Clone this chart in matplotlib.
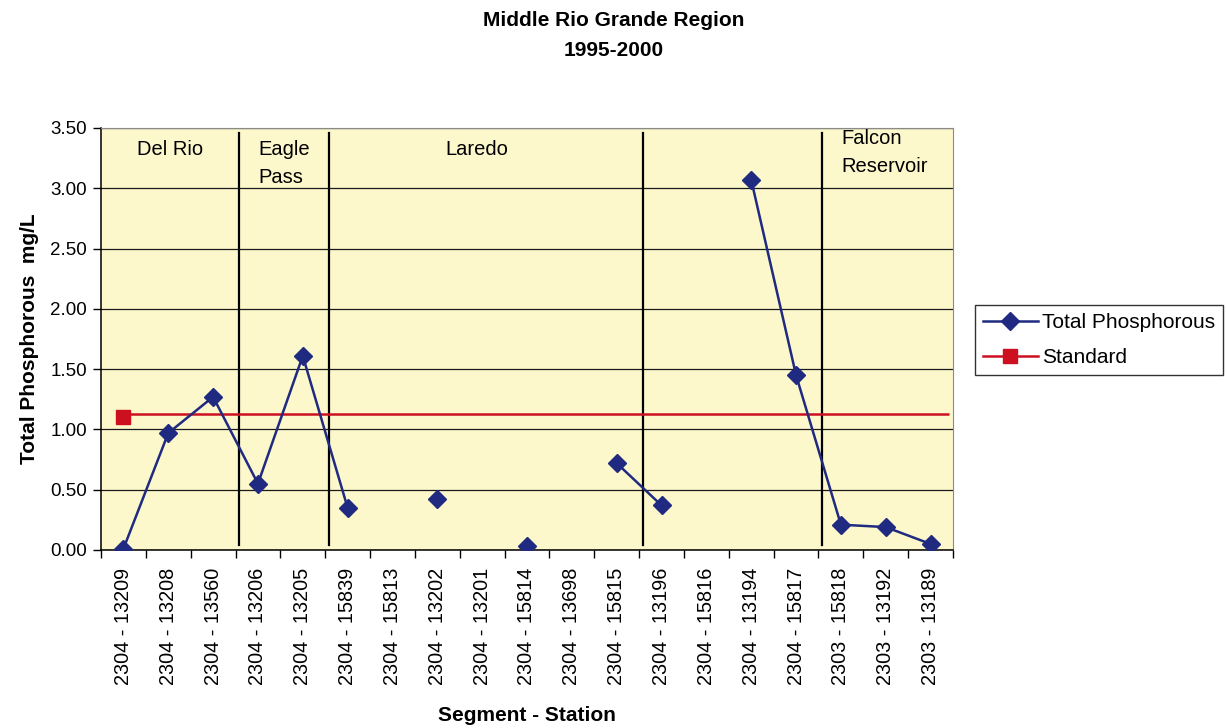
import numpy as np
import matplotlib

matplotlib.use("Agg")
import matplotlib.pyplot as plt
from matplotlib.ticker import FixedLocator, MultipleLocator, FormatStrFormatter

plt.rcParams["font.family"] = ["Liberation Sans", "DejaVu Sans"]

stations = [
    "2304 - 13209", "2304 - 13208", "2304 - 13560", "2304 - 13206", "2304 - 13205",
    "2304 - 15839", "2304 - 15813", "2304 - 13202", "2304 - 13201", "2304 - 15814",
    "2304 - 13698", "2304 - 15815", "2304 - 13196", "2304 - 15816", "2304 - 13194",
    "2304 - 15817", "2303 - 15818", "2303 - 13192", "2303 - 13189",
]
# mg/L, NaN where a station has no sample
total_p = [
    0.01, 0.97, 1.27, 0.55, 1.61,
    0.35, np.nan, 0.42, np.nan, 0.03,
    np.nan, 0.72, 0.37, np.nan, 3.07,
    1.45, 0.21, 0.19, 0.05,
]
standard_point = [1.10]
standard_line = 1.13

# region name and index of the last station in it
regions = ["Del Rio", "Eagle\nPass", "Laredo", "", "Falcon\nReservoir"]
region_ends = [2, 4, 11, 15]
region_label_x = [0.3, 3.0, 7.17, None, 16.0]
region_label_y = [3.40, 3.40, 3.40, None, 3.49]

NAVY = "#1f2a80"
RED = "#cc1020"

fig = plt.figure(figsize=(12.27, 7.28), dpi=100)
ax = fig.add_axes([101 / 1227, 1 - 550 / 728, 852 / 1227, 422 / 728])
ax.set_facecolor("#fcf8cc")

x = np.arange(len(stations))
ax.set_xlim(-0.5, len(stations) - 0.5)
ax.set_ylim(0, 3.5)

# horizontal gridlines
ax.yaxis.set_major_locator(MultipleLocator(0.5))
ax.yaxis.set_major_formatter(FormatStrFormatter("%.2f"))
ax.grid(axis="y", color="#1a1a1a", linewidth=0.9)
ax.set_axisbelow(True)

# region separators
for e in region_ends:
    ax.axvline(e + 0.5 + 0.08, ymin=0.012, ymax=0.988, color="black", linewidth=1.6, zorder=2)

for name, rx, ry in zip(regions, region_label_x, region_label_y):
    if not name:
        continue
    ax.text(rx, ry, name, fontsize=14.5, va="top", ha="left", linespacing=1.6, zorder=3)

ax.hlines(standard_line, 0, len(stations) - 0.6, color=RED, linewidth=1.8, zorder=3)
ax.plot(x, total_p, color=NAVY, linewidth=1.8, marker="D", markersize=9,
        markerfacecolor=NAVY, markeredgecolor=NAVY, label="Total Phosphorous", zorder=4)
ax.plot(x[:len(standard_point)], standard_point, color=RED, linewidth=1.8, marker="s",
        markersize=10, markerfacecolor=RED, markeredgecolor=RED, label="Standard", zorder=4)

# labels at category centres, tick marks on category boundaries
ax.set_xticks(x)
ax.set_xticklabels(stations, rotation=90, fontsize=14.3)
ax.tick_params(axis="x", which="major", length=0, pad=13)
ax.xaxis.set_minor_locator(FixedLocator(np.arange(-0.5, len(stations), 1.0)))
ax.tick_params(axis="x", which="minor", length=6, width=1, direction="out")
ax.tick_params(axis="y", labelsize=13.5, length=6, width=1, direction="out", pad=4)

for side in ("top", "right"):
    ax.spines[side].set_color("#8a8a8a")
for side in ("left", "bottom"):
    ax.spines[side].set_color("black")
    ax.spines[side].set_linewidth(1.1)

ax.set_ylabel("Total Phosphorous  mg/L", fontsize=15, fontweight="bold", labelpad=8)
ax.set_xlabel("Segment - Station", fontsize=15, fontweight="bold", labelpad=15)

fig.text(0.5, 1 - 21 / 728, "Middle Rio Grande Region", ha="center", va="center",
         fontsize=15, fontweight="bold")
fig.text(0.5, 1 - 50 / 728, "1995-2000", ha="center", va="center",
         fontsize=15, fontweight="bold")

leg = ax.legend(loc="upper left", bbox_to_anchor=(975 / 1227, 1 - 305 / 728),
                bbox_transform=fig.transFigure, fontsize=15, frameon=True, fancybox=False,
                handlelength=2.6, handletextpad=0.2, borderpad=0.4, labelspacing=0.75,
                borderaxespad=0)
leg.get_frame().set_edgecolor("black")
leg.get_frame().set_linewidth(1.0)

fig.savefig("out.png", dpi=100, facecolor="white")
